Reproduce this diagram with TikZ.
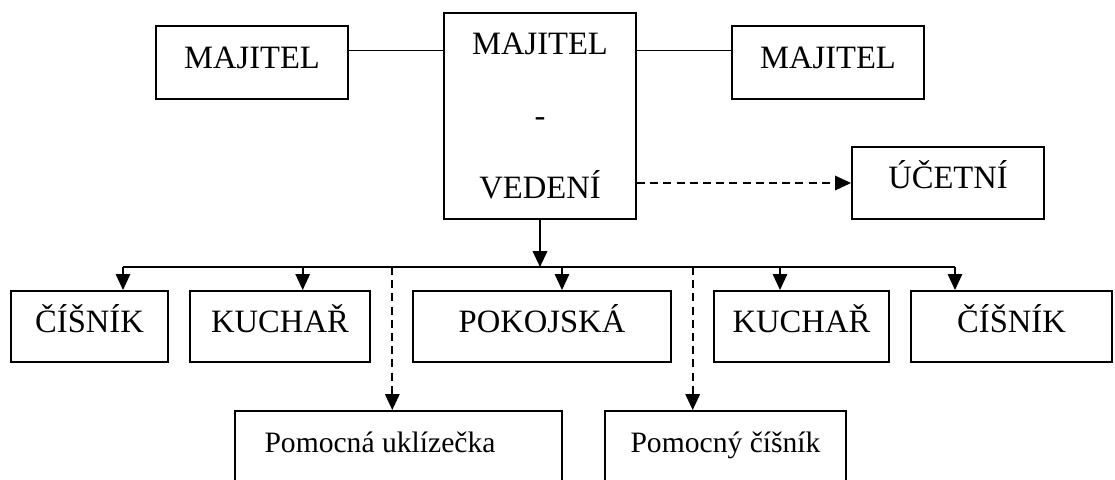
\documentclass[tikz,border=0pt]{standalone}
\usepackage{fontspec}
\setmainfont{Liberation Serif}
\usetikzlibrary{arrows.meta,positioning,calc}

\begin{document}
\begin{tikzpicture}[x=0.5pt,y=-0.5pt,
  >={Triangle[length=8pt,width=7.2pt]},
  box/.style={draw,line width=0.95pt,rectangle,inner sep=0pt,font=\fontsize{16.3}{19}\selectfont,text height=8pt,text depth=2.5pt},
  bigbox/.style={draw,line width=0.95pt,rectangle,inner sep=0pt,align=center,font=\fontsize{16.3}{36}\selectfont},
  lowbox/.style={draw,line width=0.95pt,rectangle,inner sep=0pt,minimum height=50pt},
  lowtxt/.style={anchor=base,inner sep=0pt,font=\fontsize{14.8}{18}\selectfont},
  link/.style={line width=0.8pt},
  dashlink/.style={line width=1pt,dash pattern=on 4pt off 2.6pt}]
  \useasboundingbox (0,0) rectangle (1115,479);
  \clip (0,0) rectangle (1115,479);
  % owners and management
  \node[box,minimum width=96pt,minimum height=36.5pt] (lm) at (252,62.5) {MAJITEL};
  \node[bigbox,minimum width=96pt,minimum height=103pt] (ctr) at (540,116) {MAJITEL\\-\\VEDENÍ};
  \node[box,minimum width=96pt,minimum height=36.5pt] (rm) at (828,62.5) {MAJITEL};
  \node[box,minimum width=96pt,minimum height=36pt] (ucet) at (948,183) {ÚČETNÍ};
  \coordinate (lj) at ($(lm.north east)!0.34!(lm.south east)$);
  \coordinate (rj) at ($(rm.north west)!0.34!(rm.south west)$);
  \draw[link] (lj) -- (lj -| ctr.west);
  \draw[link] (ctr.east |- rj) -- (rj);
  \draw[dashlink,->] (ctr.east |- ucet) -- (ucet.west);
  % staff
  \node[box,minimum width=78.5pt,minimum height=35.5pt] (c1) at (89.5,326.5) {ČÍŠNÍK};
  \node[box,minimum width=90pt,minimum height=35.5pt] (c2) at (280,326.5) {KUCHAŘ};
  \node[box,minimum width=129pt,minimum height=35.5pt] (c3) at (542,326.5) {POKOJSKÁ};
  \node[box,minimum width=87.5pt,minimum height=35.5pt] (c4) at (801.5,326.5) {KUCHAŘ};
  \node[box,minimum width=100.5pt,minimum height=35.5pt] (c5) at (1011.5,326.5) {ČÍŠNÍK};
  \node[lowbox,minimum width=163.5pt] (b1) at (398.5,461) {};
  \node[lowbox,minimum width=120.5pt] (b2) at (725.5,461) {};
  \node[lowtxt] (t1) at (380,452) {Pomocná uklízečka};
  \node[lowtxt] (t2) at (725.5,452) {Pomocný číšník};
  \coordinate (bus) at (540,267);
  \coordinate (k1) at (123,267);
  \coordinate (k2) at (302.7,267);
  \coordinate (k3) at (562,267);
  \coordinate (k4) at (780,267);
  \coordinate (k5) at (955,267);
  \coordinate (d1) at (392.3,267);
  \coordinate (d2) at (692.7,267);
  \draw[line width=1.3pt,->] (ctr.south) -- (bus);
  \draw[link] (k1) -- (k5);
  \foreach \k/\n in {k1/c1,k2/c2,k3/c3,k4/c4,k5/c5}
    \draw[link,->] (\k) -- (\k |- \n.north);
  \draw[dashlink,->] (d1) -- (d1 |- b1.north);
  \draw[dashlink,->] (d2) -- (d2 |- b2.north);
\end{tikzpicture}
\end{document}
